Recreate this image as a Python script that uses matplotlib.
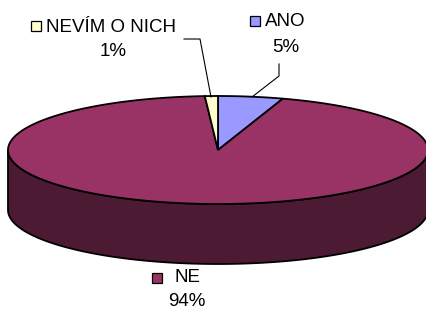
import numpy as np
import matplotlib
matplotlib.use("Agg")
import matplotlib.pyplot as plt
from matplotlib.patches import Polygon, Rectangle

categories = ["ANO", "NE", "NEVÍM O NICH"]
values = [5, 94, 1]
colors = ["#9999FF", "#993366", "#FFFFCC"]
side_colors = ["#4D4D80", "#4D1A33", "#808066"]

plt.rcParams['font.family'] = ['Liberation Sans', 'DejaVu Sans']

fig = plt.figure(figsize=(4.26, 3.09), dpi=100)
ax = fig.add_axes([0, 0, 1, 1])
ax.set_xlim(0, 426)
ax.set_ylim(309, 0)
ax.axis('off')

cx, cy = 218, 150
a, b = 210, 54
depth = 60

total = sum(values)
fracs = [v / total for v in values]

def pt(theta_deg, dy=0):
    t = np.radians(theta_deg)
    return cx + a * np.cos(t), cy - b * np.sin(t) + dy

starts = []
ang = 90.0
for f in fracs:
    end = ang - 360 * f
    starts.append((ang, end))
    ang = end

for (s, e), sc in zip(starts, side_colors):
    lo, hi = e, s
    for shift in (0, -360, 360):
        l2, h2 = lo + shift, hi + shift
        L, H = max(l2, -180), min(h2, 0)
        if H > L:
            th = np.linspace(L, H, 120)
            top = [pt(t) for t in th]
            bot = [pt(t, depth) for t in th[::-1]]
            ax.add_patch(Polygon(top + bot, closed=True, facecolor=sc,
                                 edgecolor='black', linewidth=1.3, zorder=1))

for (s, e), c in zip(starts, colors):
    th = np.linspace(s, e, 300)
    pts = [(cx, cy)] + [pt(t) for t in th]
    ax.add_patch(Polygon(pts, closed=True, facecolor=c, edgecolor='black',
                         linewidth=1.3, zorder=2))

fs = 13.5

def keybox(x, y, c):
    ax.add_patch(Rectangle((x, y), 10, 10, facecolor=c, edgecolor='black',
                           linewidth=0.9, zorder=3))

# ANO
keybox(250, 16, colors[0])
ax.text(265, 21, categories[0], fontsize=fs, va='center', ha='left')
ax.text(286, 47, f"{values[0]}%", fontsize=fs, va='center', ha='center')
ax.plot([279, 279, 252], [64, 76, 97], color='black', lw=0.8, zorder=3)

# NEVÍM O NICH
keybox(31, 21, colors[2])
ax.text(46, 27, categories[2], fontsize=fs, va='center', ha='left')
ax.text(113, 52, f"{values[2]}%", fontsize=fs, va='center', ha='center')
ax.plot([184, 200, 211], [39, 39, 97], color='black', lw=0.8, zorder=3)

# NE
keybox(152, 273, colors[1])
ax.text(175, 278, categories[1], fontsize=fs, va='center', ha='left')
ax.text(187, 302, f"{values[1]}%", fontsize=fs, va='center', ha='center')

fig.savefig("out.png", dpi=100)
